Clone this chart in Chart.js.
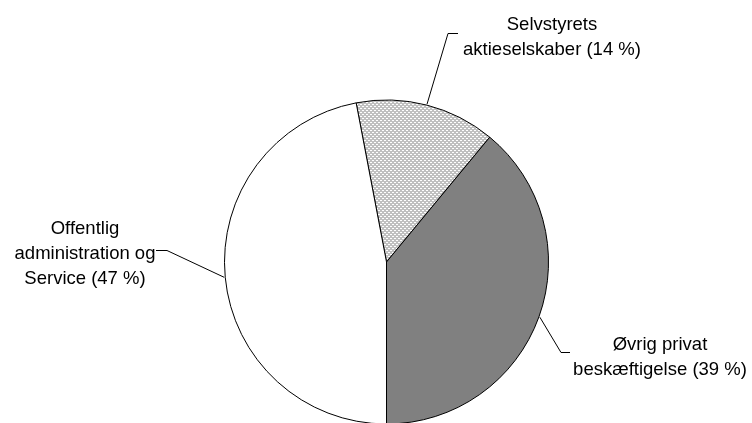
<!DOCTYPE html>
<html>
<head>
<meta charset="utf-8">
<script src="https://cdn.jsdelivr.net/npm/chart.js@4"></script>
<style>
  html, body { margin: 0; padding: 0; background: #fff; }
  #wrap { width: 752px; height: 423px; }
</style>
</head>
<body>
<div id="wrap"><canvas id="grafico" width="752" height="423"></canvas></div>
<script>
// Data
const kategorier = [
  ['Selvstyrets', 'aktieselskaber (14 %)'],
  ['Øvrig privat', 'beskæftigelse (39 %)'],
  ['Offentlig', 'administration og', 'Service (47 %)']
];
const andele = [14, 39, 47];

// Label placement (elbow of leader line, end of horizontal stub, text centre, first baseline)
const etiketPlacering = [
  { knæk: [448, 33], slut: [458, 33], tekstX: 552, tekstY: 30 },
  { knæk: [561, 352], slut: [570, 352], tekstX: 660, tekstY: 350 },
  { knæk: [167, 250], slut: [156, 250], tekstX: 85, tekstY: 234 }
];
const linjeAfstand = 25;

function lavMoenster() {
  const c = document.createElement('canvas');
  c.width = 4;
  c.height = 4;
  const g = c.getContext('2d');
  g.fillStyle = '#c0c0c0';
  g.fillRect(0, 0, 4, 4);
  g.fillStyle = '#ffffff';
  g.fillRect(0, 0, 2, 1);
  g.fillRect(2, 2, 2, 1);
  return g.createPattern(c, 'repeat');
}

const etiketPlugin = {
  id: 'etiketter',
  afterDraw(chart) {
    const ctx = chart.ctx;
    const buer = chart.getDatasetMeta(0).data;
    ctx.save();
    ctx.strokeStyle = '#000';
    ctx.lineWidth = 1;
    ctx.fillStyle = '#000';
    ctx.font = '18.5px "Liberation Sans", Arial, sans-serif';
    ctx.textAlign = 'center';
    ctx.textBaseline = 'alphabetic';
    buer.forEach((bue, i) => {
      const p = etiketPlacering[i];
      const midt = (bue.startAngle + bue.endAngle) / 2;
      const r = bue.outerRadius + 1;
      const x0 = bue.x + Math.cos(midt) * r;
      const y0 = bue.y + Math.sin(midt) * r;
      ctx.beginPath();
      ctx.moveTo(x0, y0);
      ctx.lineTo(p.knæk[0], p.knæk[1] + 0.5);
      ctx.lineTo(p.slut[0], p.slut[1] + 0.5);
      ctx.stroke();
      kategorier[i].forEach((linje, j) => {
        ctx.fillText(linje, p.tekstX, p.tekstY + j * linjeAfstand);
      });
    });
    ctx.restore();
  }
};

const ctx = document.getElementById('grafico').getContext('2d');
new Chart(ctx, {
  type: 'pie',
  data: {
    labels: kategorier.map(l => l.join(' ')),
    datasets: [{
      data: andele,
      backgroundColor: [lavMoenster(), '#808080', '#ffffff'],
      borderColor: '#000000',
      borderWidth: 1,
      radius: 162
    }]
  },
  options: {
    responsive: false,
    animation: false,
    rotation: -10.8,
    layout: {
      padding: { left: 225, right: 204, top: 101, bottom: 0 }
    },
    plugins: {
      legend: { display: false },
      tooltip: { enabled: false }
    }
  },
  plugins: [etiketPlugin]
});
</script>
</body>
</html>
